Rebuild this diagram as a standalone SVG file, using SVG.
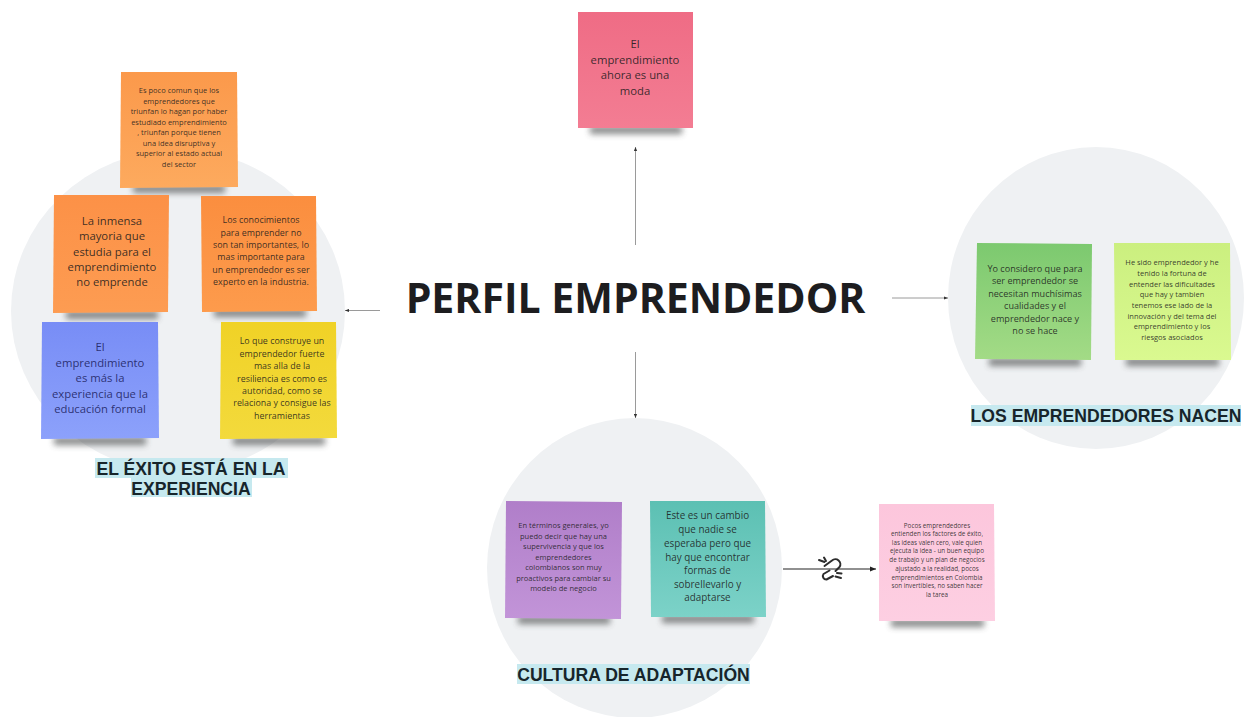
<svg xmlns="http://www.w3.org/2000/svg" width="1244" height="717" viewBox="0 0 1244 717">
<style>
.bg{fill:#eff1f3}
.sh{fill:#3c4040;opacity:.62;filter:url(#blur)}
text{font-family:"Open Sans","Noto Sans","DejaVu Sans",sans-serif;text-anchor:middle;fill:#1c1c1c;fill-opacity:.88}
.xs{font-size:6.3px}
.s{font-size:7.5px}
.m{font-size:8.9px}
.l{font-size:11.3px}
.title{font-size:41px;font-weight:700;fill:#1d1d1f;fill-opacity:1}
.sec{font-family:"Liberation Sans",Arial,sans-serif;font-size:17.6px;font-weight:700;fill:#17252b;fill-opacity:1}
.hl{fill:#c6e9ef}
.cn{stroke:#8e8e8e;stroke-width:.9;fill:none;marker-end:url(#ah)}
.cd{stroke:#222;stroke-width:1.1;fill:none;marker-end:url(#ahd)}
.lk{stroke:#2c2c2c;stroke-width:2;fill:none;stroke-linecap:round;stroke-linejoin:round}
</style>
<defs>
<filter id="blur" x="-20%" y="-200%" width="140%" height="500%"><feGaussianBlur stdDeviation="3"/></filter>
<marker id="ah" markerWidth="5" markerHeight="4" refX="4" refY="2" orient="auto" markerUnits="userSpaceOnUse"><path d="M0 0.4L4 2L0 3.6Z" fill="#333"/></marker>
<marker id="ahd" markerWidth="7" markerHeight="6" refX="6" refY="3" orient="auto" markerUnits="userSpaceOnUse"><path d="M0 0.6L6 3L0 5.4Z" fill="#222"/></marker>
<linearGradient id="g1" x1="0" y1="0" x2="0" y2="1"><stop offset="0" stop-color="#fb994b"/><stop offset="1" stop-color="#fdaa5e"/></linearGradient>
<linearGradient id="g2" x1="0" y1="0" x2="0" y2="1"><stop offset="0" stop-color="#fc9147"/><stop offset="1" stop-color="#fd9c52"/></linearGradient>
<linearGradient id="g3" x1="0" y1="0" x2="0" y2="1"><stop offset="0" stop-color="#fb8e3f"/><stop offset="1" stop-color="#fd9b4c"/></linearGradient>
<linearGradient id="g4" x1="0" y1="0" x2="0" y2="1"><stop offset="0" stop-color="#788df6"/><stop offset="1" stop-color="#8ca1fb"/></linearGradient>
<linearGradient id="g5" x1="0" y1="0" x2="0" y2="1"><stop offset="0" stop-color="#f0d226"/><stop offset="1" stop-color="#f3da3c"/></linearGradient>
<linearGradient id="g6" x1="0" y1="0" x2="0" y2="1"><stop offset="0" stop-color="#ef6c85"/><stop offset="1" stop-color="#f37d93"/></linearGradient>
<linearGradient id="g7" x1="0" y1="0" x2="0" y2="1"><stop offset="0" stop-color="#b07ec9"/><stop offset="1" stop-color="#c294d8"/></linearGradient>
<linearGradient id="g8" x1="0" y1="0" x2="0" y2="1"><stop offset="0" stop-color="#5cc0b3"/><stop offset="1" stop-color="#7cd2c8"/></linearGradient>
<linearGradient id="g9" x1="0" y1="0" x2="0" y2="1"><stop offset="0" stop-color="#fcc6dc"/><stop offset="1" stop-color="#fdcfe2"/></linearGradient>
<linearGradient id="g10" x1="0" y1="0" x2="0" y2="1"><stop offset="0" stop-color="#7cc96f"/><stop offset="1" stop-color="#a3db86"/></linearGradient>
<linearGradient id="g11" x1="0" y1="0" x2="0" y2="1"><stop offset="0" stop-color="#cbef7f"/><stop offset="1" stop-color="#daf990"/></linearGradient>
</defs>
<rect width="1244" height="717" fill="#fff"/>

<g id="area-exito"><ellipse class="bg" cx="178" cy="311" rx="167" ry="161"/></g>
<g id="area-adaptacion"><ellipse class="bg" cx="634.500" cy="568" rx="147.500" ry="150"/></g>
<g id="area-nacen"><ellipse class="bg" cx="1096" cy="298" rx="148" ry="151"/></g>

<g id="connectors">
<path class="cn" d="M635.500 245V147"/>
<path class="cn" d="M380 310.500H345"/>
<path class="cn" d="M892 298H948"/>
<path class="cn" d="M635.500 352V418"/>
<path class="cd" d="M783 569H876"/>
<g id="broken-link">
<path class="lk" d="M824.500 566L832 560.500a5 5 0 0 1 7.500 6.500L835.500 571"/>
<path class="lk" d="M829.500 570.500L823.500 574a3.500 3.500 0 0 0 3 5.500L833 576"/>
<path class="lk" stroke-width="1.500" d="M819 560l5.500 2M824 557.500l2 3.500M835.500 576.500l5.500 1.500M837 573l4.500.5"/>
</g>
</g>

<g id="titulo"><text class="title" x="635.500" y="312.500">PERFIL EMPRENDEDOR</text></g>

<g id="sticky-moda">
<rect class="sh" x="590" y="126" width="92" height="8"/>
<polygon fill="url(#g6)" points="578,12 693,12 693,128 578,128"/>
<text class="l"><tspan x="635" y="48">El</tspan><tspan x="635" y="63.500">emprendimiento</tspan><tspan x="635" y="79">ahora es una</tspan><tspan x="635" y="94.500">moda</tspan></text>
</g>

<g id="sticky-poco-comun">
<rect class="sh" x="133" y="185" width="92" height="8"/>
<polygon fill="url(#g1)" points="121,72 237,72 238,187 120,188"/>
<text class="s"><tspan x="179" y="93">Es poco comun que los</tspan><tspan x="179" y="103.500">emprendedores que</tspan><tspan x="179" y="114">triunfan lo hagan por haber</tspan><tspan x="179" y="124.700">estudiado emprendimiento</tspan><tspan x="179" y="135">, triunfan porque tienen</tspan><tspan x="179" y="145.700">una idea disruptiva y</tspan><tspan x="179" y="156.300">superior al estado actual</tspan><tspan x="179" y="166.700">del sector</tspan></text>
</g>

<g id="sticky-inmensa">
<rect class="sh" x="66" y="311" width="92" height="8"/>
<polygon fill="url(#g2)" points="54,195 169,195 168,312 53,313"/>
<text class="l"><tspan x="112" y="224.500">La inmensa</tspan><tspan x="112" y="240">mayoria  que</tspan><tspan x="112" y="255.500">estudia para el</tspan><tspan x="112" y="270.500">emprendimiento</tspan><tspan x="112" y="286">no emprende</tspan></text>
</g>

<g id="sticky-conocimientos">
<rect class="sh" x="214" y="309" width="92" height="8"/>
<polygon fill="url(#g3)" points="201,196 316,196 317,311 202,312"/>
<text class="m"><tspan x="261" y="223">Los conocimientos</tspan><tspan x="261" y="235.500">para emprender no</tspan><tspan x="261" y="247.700">son tan importantes, lo</tspan><tspan x="261" y="260">mas importante para</tspan><tspan x="261" y="272.500">un emprendedor es ser</tspan><tspan x="261" y="285">experto en la industria.</tspan></text>
</g>

<g id="sticky-experiencia">
<rect class="sh" x="54" y="437" width="92" height="8"/>
<polygon fill="url(#g4)" points="42,322 158,322 159,438 41,439"/>
<text class="l" style="fill:#1c2260"><tspan x="100" y="351">El</tspan><tspan x="100" y="366.500">emprendimiento</tspan><tspan x="100" y="382">es más la</tspan><tspan x="100" y="397.500">experiencia que la</tspan><tspan x="100" y="413">educación formal</tspan></text>
</g>

<g id="sticky-construye">
<rect class="sh" x="233" y="437" width="92" height="8"/>
<polygon fill="url(#g5)" points="221,322 336,322 337,438 220,439"/>
<text class="m"><tspan x="282" y="344">Lo que construye un</tspan><tspan x="282" y="356.500">emprendedor fuerte</tspan><tspan x="282" y="369">mas alla de la</tspan><tspan x="282" y="381.500">resiliencia es como es</tspan><tspan x="282" y="393.500">autoridad, como se</tspan><tspan x="282" y="406">relaciona y consigue las</tspan><tspan x="282" y="418.500">herramientas</tspan></text>
</g>

<g id="sticky-considero">
<rect class="sh" x="989" y="358" width="92" height="8"/>
<polygon fill="url(#g10)" points="977,243 1092,244 1091,360 975,359"/>
<text style="font-size:9.100px"><tspan x="1035" y="271.500">Yo considero que para</tspan><tspan x="1035" y="284">ser emprendedor se</tspan><tspan x="1035" y="296.500">necesitan muchísimas</tspan><tspan x="1035" y="309">cualidades y el</tspan><tspan x="1035" y="321.500">emprendedor nace y</tspan><tspan x="1035" y="334">no se hace</tspan></text>
</g>

<g id="sticky-he-sido">
<rect class="sh" x="1126" y="358" width="93" height="8"/>
<polygon fill="url(#g11)" points="1114,243 1230,243 1231,360 1115,360"/>
<text class="s"><tspan x="1172" y="264.500">He sido emprendedor y he</tspan><tspan x="1172" y="275.500">tenido la fortuna de</tspan><tspan x="1172" y="286.500">entender las dificultades</tspan><tspan x="1172" y="297">que hay y tambien</tspan><tspan x="1172" y="307.500">tenemos ese lado de la</tspan><tspan x="1172" y="318.500">innovación y del tema del</tspan><tspan x="1172" y="329">emprendimiento y los</tspan><tspan x="1172" y="339.500">riesgos asociados</tspan></text>
</g>

<g id="sticky-supervivencia">
<rect class="sh" x="518" y="616" width="92" height="8"/>
<polygon fill="url(#g7)" points="506,501 622,502 621,619 505,618"/>
<text class="s"><tspan x="563.500" y="528">En términos generales, yo</tspan><tspan x="563.500" y="538.500">puedo decir que hay una</tspan><tspan x="563.500" y="549">supervivencia y que los</tspan><tspan x="563.500" y="559.500">emprendedores</tspan><tspan x="563.500" y="570">colombianos son muy</tspan><tspan x="563.500" y="580.500">proactivos para cambiar su</tspan><tspan x="563.500" y="591">modelo de negocio</tspan></text>
</g>

<g id="sticky-cambio">
<rect class="sh" x="662" y="615" width="92" height="8"/>
<polygon fill="url(#g8)" points="650,501 765,501 766,617 651,617"/>
<text style="font-size:9.900px"><tspan x="707.500" y="519">Este es un cambio</tspan><tspan x="707.500" y="533">que nadie se</tspan><tspan x="707.500" y="546.500">esperaba pero que</tspan><tspan x="707.500" y="560.500">hay que encontrar</tspan><tspan x="707.500" y="574">formas de</tspan><tspan x="707.500" y="587.500">sobrellevarlo y</tspan><tspan x="707.500" y="601">adaptarse</tspan></text>
</g>

<g id="sticky-pocos">
<rect class="sh" x="891" y="619" width="93" height="8"/>
<polygon fill="url(#g9)" points="879,504 994,504 995,621 879,621"/>
<text class="xs"><tspan x="937" y="527.500">Pocos emprendedores</tspan><tspan x="937" y="536">entienden los factores  de éxito,</tspan><tspan x="937" y="544.500">las ideas valen cero, vale quien</tspan><tspan x="937" y="553">ejecuta la idea - un buen equipo</tspan><tspan x="937" y="562">de trabajo y un plan de negocios</tspan><tspan x="937" y="570.500">ajustado a la realidad, pocos</tspan><tspan x="937" y="579.500">emprendimientos en Colombia</tspan><tspan x="937" y="588">son invertibles, no saben hacer</tspan><tspan x="937" y="596.500">la tarea</tspan></text>
</g>

<g id="label-exito">
<rect class="hl" x="95" y="458" width="193" height="20"/>
<rect class="hl" x="131" y="478" width="121" height="19"/>
<text class="sec"><tspan x="191" y="474.500">EL ÉXITO ESTÁ EN LA</tspan><tspan x="191" y="494.500">EXPERIENCIA</tspan></text>
</g>
<g id="label-nacen">
<rect class="hl" x="971" y="405" width="270" height="21"/>
<text class="sec" x="1106" y="422">LOS EMPRENDEDORES NACEN</text>
</g>
<g id="label-adaptacion">
<rect class="hl" x="517" y="664" width="233" height="20"/>
<text class="sec" x="633.500" y="681">CULTURA DE ADAPTACIÓN</text>
</g>
</svg>
